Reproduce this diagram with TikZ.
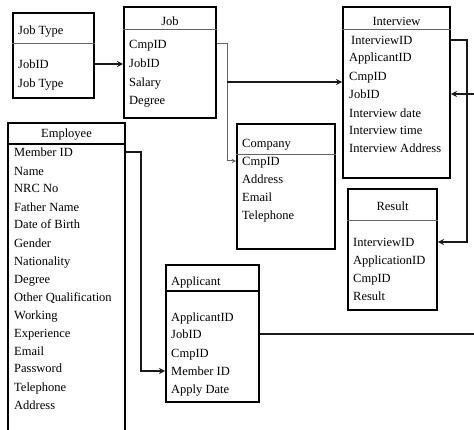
\documentclass[tikz,border=0pt]{standalone}
\usepackage{fontspec}
\setmainfont{Liberation Serif}
\usetikzlibrary{arrows,positioning}
\definecolor{linegray}{RGB}{100,100,100}
\definecolor{darkgray}{RGB}{25,25,25}

\begin{document}
\begin{tikzpicture}[
				x=1pt, y=-1pt,
				entity/.style={rectangle, draw=black, line width=1.8pt, inner sep=0pt},
				attr/.style={anchor=west, inner sep=0pt, text height=10pt, text depth=1pt, font=\fontsize{12.5}{15}\selectfont},
				title/.style={attr, anchor=center},
				divider/.style={draw=linegray, line width=0.9pt},
				thickdivider/.style={draw=black, line width=1.5pt},
				arrow/.style={->,>=stealth,line width=1.7pt,color=darkgray},
				grayarrow/.style={->,>=stealth,line width=1pt,color=linegray}
			]
			\path[use as bounding box, clip] (0,0) rectangle (474,430);

			% Job Type
			\node (jobtype) [entity, minimum width=81pt, minimum height=85pt] at (53.5,55.5) {};
			\node (jt_title) [attr] at (18,30) {Job Type};
			\draw [divider] (jobtype.west |- 0,43) -- (jobtype.east |- 0,43);
			\node (jt_jobid) [attr] at (18,64) {JobID};
			\node (jt_jobtype) [attr] at (18,83) {Job Type};

			% Job
			\node (job) [entity, minimum width=92pt, minimum height=111pt] at (170,62.5) {};
			\node (job_title) [title] at (170,21) {Job};
			\draw [divider] (job.west |- 0,29) -- (job.east |- 0,29);
			\node (job_cmpid) [attr] at (129,44) {CmpID};
			\node (job_jobid) [attr] at (129,63) {JobID};
			\node (job_salary) [attr] at (129,82) {Salary};
			\node (job_degree) [attr] at (129,100) {Degree};

			% Interview
			\node (interview) [entity, minimum width=107pt, minimum height=171pt] at (396.5,92.5) {};
			\node (iv_title) [title] at (396.5,21) {Interview};
			\draw [divider] (interview.west |- 0,29) -- (interview.east |- 0,29);
			\node (iv_interviewid) [attr] at (351,40) {InterviewID};
			\node (iv_applicantid) [attr] at (349,57) {ApplicantID};
			\node (iv_cmpid) [attr] at (349,76) {CmpID};
			\node (iv_jobid) [attr] at (349,94) {JobID};
			\node (iv_date) [attr] at (349,113) {Interview date};
			\node (iv_time) [attr] at (349,130) {Interview time};
			\node (iv_address) [attr] at (349,148) {Interview Address};

			% Company
			\node (company) [entity, minimum width=98pt, minimum height=125pt] at (286,186.5) {};
			\node (co_title) [attr] at (242,143) {Company};
			\draw [divider] (company.west |- 0,154) -- (company.east |- 0,154);
			\node (co_cmpid) [attr] at (242,161) {CmpID};
			\node (co_address) [attr] at (242,179) {Address};
			\node (co_email) [attr] at (242,197) {Email};
			\node (co_telephone) [attr] at (242,215) {Telephone};

			% Result
			\node (result) [entity, minimum width=89pt, minimum height=121pt] at (392.5,249.5) {};
			\node (rs_title) [title] at (392.5,206) {Result};
			\draw [divider] (result.west |- 0,220) -- (result.east |- 0,220);
			\node (rs_interviewid) [attr] at (353,242) {InterviewID};
			\node (rs_applicationid) [attr] at (353,260) {ApplicationID};
			\node (rs_cmpid) [attr] at (353,278) {CmpID};
			\node (rs_result) [attr] at (353,296) {Result};

			% Applicant
			\node (applicant) [entity, minimum width=93pt, minimum height=137pt] at (212.5,333.5) {};
			\node (ap_title) [attr] at (171,281) {Applicant};
			\draw [thickdivider] (applicant.west |- 0,291) -- (applicant.east |- 0,291);
			\node (ap_applicantid) [attr] at (171,317) {ApplicantID};
			\node (ap_jobid) [attr] at (171,334) {JobID};
			\node (ap_cmpid) [attr] at (171,353) {CmpID};
			\node (ap_memberid) [attr] at (171,371) {Member ID};
			\node (ap_applydate) [attr] at (171,389) {Apply Date};

			% Employee
			\node (employee) [entity, minimum width=117pt, minimum height=327pt] at (66.5,286.5) {};
			\node (em_title) [title] at (66.5,133) {Employee};
			\draw [thickdivider] (employee.west |- 0,144) -- (employee.east |- 0,144);
			\node (em_memberid) [attr] at (14,152) {Member ID};
			\node (em_name) [attr] at (14,171) {Name};
			\node (em_nrc) [attr] at (14,188) {NRC No};
			\node (em_father) [attr] at (14,207) {Father Name};
			\node (em_dob) [attr] at (14,224) {Date of Birth};
			\node (em_gender) [attr] at (14,243) {Gender};
			\node (em_nationality) [attr] at (14,261) {Nationality};
			\node (em_degree) [attr] at (14,279) {Degree};
			\node (em_otherqual) [attr] at (14,297) {Other Qualification};
			\node (em_working) [attr] at (14,315) {Working};
			\node (em_experience) [attr] at (14,333) {Experience};
			\node (em_email) [attr] at (14,351) {Email};
			\node (em_password) [attr] at (14,368) {Password};
			\node (em_telephone) [attr] at (14,387) {Telephone};
			\node (em_address) [attr] at (14,405) {Address};

			% Connectors
			\draw [arrow] (jobtype.east |- jt_jobid) -- (job.west |- jt_jobid);
			\draw [grayarrow] (job.east |- job_cmpid) -- ++(11,0) |- (company.west |- co_cmpid);
			\coordinate (jobsplit) at (227,82);
			\draw [arrow] (jobsplit) -- (interview.west |- jobsplit);
			\draw [arrow] (interview.east |- iv_interviewid) -- ++(16,0) |- (result.east |- rs_interviewid);
			\draw [arrow] (applicant.east |- ap_jobid) -- ++(240,0) |- (interview.east |- iv_jobid);
			\draw [arrow] (employee.east |- em_memberid) -- ++(15,0) |- (applicant.west |- ap_memberid);

		\end{tikzpicture}
\end{document}
